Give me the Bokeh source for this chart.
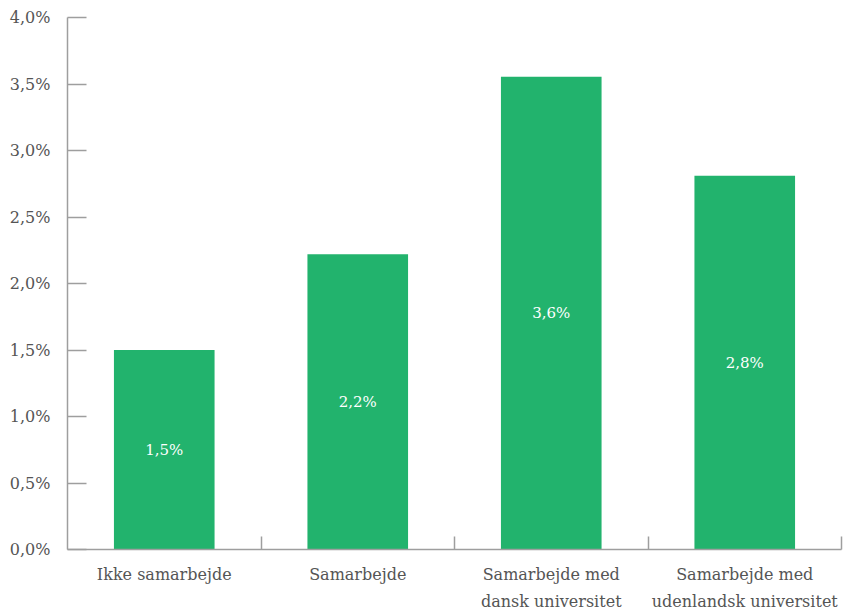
from bokeh.plotting import figure
from bokeh.models import Range1d, FixedTicker, CustomJSTickFormatter, ColumnDataSource
from bokeh.core.properties import value
from bokeh.embed import file_html
from bokeh.resources import INLINE

categories = ["Ikke samarbejde", "Samarbejde", "Samarbejde med\ndansk universitet",
              "Samarbejde med\nudenlandsk universitet"]
values = [1.5, 2.22, 3.555, 2.81]
y_ticks = [0.0, 0.5, 1.0, 1.5, 2.0, 2.5, 3.0, 3.5, 4.0]

GREEN = "#22B36D"
TEXT = "#555555"
AXIS = "#9E9E9E"
FONT = "DejaVu Serif"

xs = [i + 0.5 for i in range(len(categories))]
bar_labels = [f"{v:.1f}".replace(".", ",") + "%" for v in values]
src = ColumnDataSource(dict(x=xs, top=values, mid=[v / 2 for v in values], lab=bar_labels))

p = figure(width=847, height=614, output_backend="svg", toolbar_location=None,
           x_range=Range1d(0, len(categories)), y_range=Range1d(0, 4.0),
           min_border_left=67, min_border_right=6, min_border_top=17, min_border_bottom=65)
p.outline_line_color = None
p.grid.grid_line_color = None
p.background_fill_color = "white"

p.vbar(x="x", top="top", width=0.52, bottom=0, source=src, fill_color=GREEN, line_color=None)
p.text(x="x", y="mid", text="lab", source=src, text_align="center", text_baseline="middle",
       text_color="white", text_font=value(FONT), text_font_size="15px")

# y axis
ya = p.yaxis[0]
ya.ticker = FixedTicker(ticks=y_ticks)
ya.formatter = CustomJSTickFormatter(code="return tick.toFixed(1).replace('.', ',') + '%';")
ya.axis_line_color = AXIS
ya.axis_line_width = 1.5
ya.major_tick_line_color = AXIS
ya.major_tick_line_width = 1.5
ya.major_tick_in = 19
ya.major_tick_out = 0
ya.minor_tick_line_color = None
ya.major_label_standoff = 17
ya.major_label_text_font = FONT
ya.major_label_text_font_size = "16px"
ya.major_label_text_color = TEXT

# x axis
xa = p.xaxis[0]
xa.ticker = FixedTicker(ticks=xs, minor_ticks=[1, 2, 3, 4])
xa.major_label_overrides = {x: c for x, c in zip(xs, categories)}
xa.axis_line_color = AXIS
xa.axis_line_width = 1.5
xa.major_tick_line_color = None
xa.major_tick_in = 0
xa.major_tick_out = 0
xa.minor_tick_line_color = AXIS
xa.minor_tick_line_width = 1.5
xa.minor_tick_in = 13
xa.minor_tick_out = 0
xa.major_label_standoff = 15
xa.major_label_text_font = FONT
xa.major_label_text_font_size = "16px"
xa.major_label_text_color = TEXT
xa.major_label_text_line_height = 1.45

open("out.html", "w").write(file_html(p, INLINE))
